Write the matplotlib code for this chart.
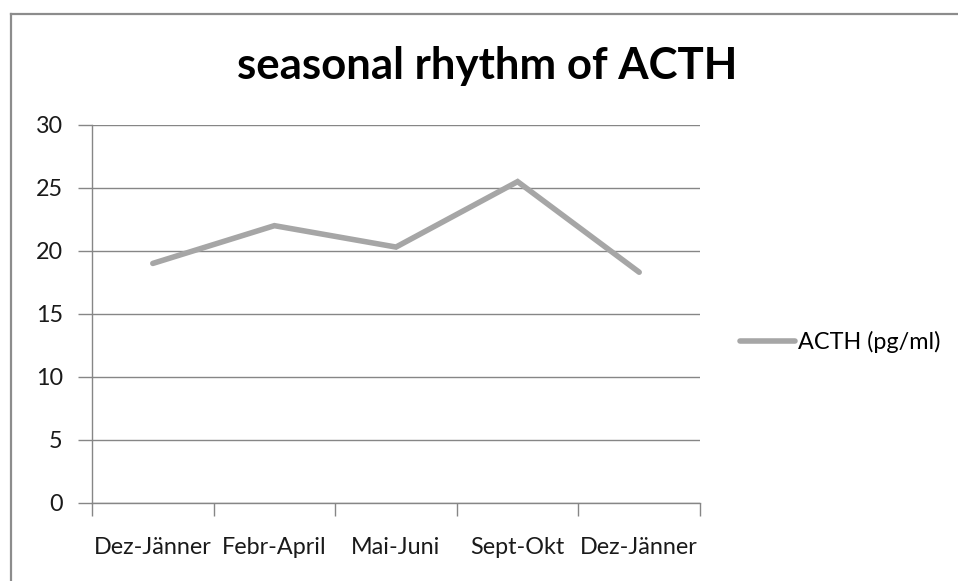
import matplotlib
matplotlib.use('Agg')
import matplotlib.pyplot as plt
from matplotlib.lines import Line2D

# data
seasons = ['Dez-Jänner', 'Febr-April', 'Mai-Juni', 'Sept-Okt', 'Dez-Jänner']
acth = [19.0, 22.0, 20.3, 25.5, 18.3]
y_ticks = [0, 5, 10, 15, 20, 25, 30]

plt.rcParams['font.family'] = ['Lato', 'DejaVu Sans']

W, H = 958, 581
fig = plt.figure(figsize=(W / 100, H / 100), dpi=100)
ax = fig.add_axes([92 / W, 1 - 502.5 / H, (700 - 92) / W, (502.5 - 125) / H])

grid_col = '#868686'
line_col = '#A6A6A6'
fs = 16.8

x = list(range(len(seasons)))
ax.plot(x, acth, color=line_col, lw=4.0, solid_capstyle='round',
        solid_joinstyle='miter', label='ACTH (pg/ml)', zorder=3)

ax.set_xlim(-0.5, len(seasons) - 0.5)
ax.set_ylim(0, 30)
ax.set_yticks(y_ticks)
ax.yaxis.grid(True, color=grid_col, lw=1)
ax.set_axisbelow(True)

# category labels centred, tick marks on the boundaries
ax.set_xticks(x)
ax.set_xticklabels(seasons)
ax.set_xticks([i - 0.5 for i in range(len(seasons) + 1)], minor=True)
ax.tick_params(axis='x', which='major', length=0, pad=25, labelsize=fs, labelcolor='#1a1a1a')
ax.tick_params(axis='x', which='minor', length=9, width=1, color=grid_col, direction='out')
ax.tick_params(axis='y', length=10, width=1, color=grid_col, pad=11, labelsize=fs, labelcolor='#1a1a1a')

for s in ['top', 'right']:
    ax.spines[s].set_visible(False)
for s in ['left', 'bottom']:
    ax.spines[s].set_color(grid_col)
    ax.spines[s].set_linewidth(1)

fig.text(487.5 / W, 1 - 66 / H, 'seasonal rhythm of ACTH', ha='center', va='center',
         fontsize=31.5, fontweight='bold', color='black')

fig.legend(loc='center left', bbox_to_anchor=(740 / W, 1 - 342 / H), frameon=False,
           fontsize=fs, handlelength=2.35, handletextpad=0.12, borderpad=0,
           borderaxespad=0)

# chart frame (only top and left visible in the crop)
fig.add_artist(Line2D([10.5 / W, 10.5 / W], [0, 1 - 13.5 / H], color='#8c8c8c', lw=1.6))
fig.add_artist(Line2D([10.5 / W, 1], [1 - 13.5 / H, 1 - 13.5 / H], color='#8c8c8c', lw=1.6))

fig.savefig('out.png', dpi=100)
